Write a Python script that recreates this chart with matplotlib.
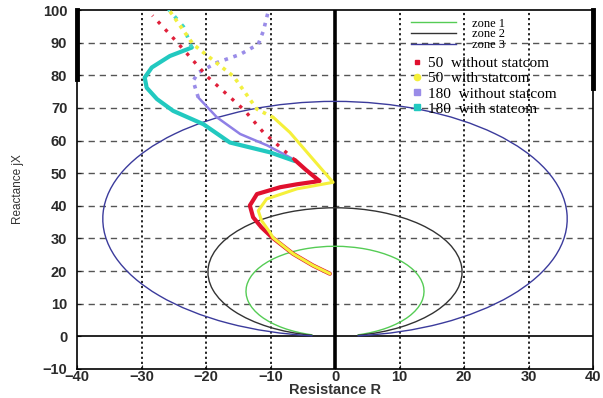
import numpy as np
import matplotlib
matplotlib.use("Agg")
import matplotlib.pyplot as plt
from matplotlib.patches import Arc
from matplotlib.lines import Line2D

# ---------------- data ----------------
zone_labels = ["zone 1", "zone 2", "zone 3"]
zone_center_y = [13.8, 19.7, 36.0]
zone_radius = [13.8, 19.7, 36.0]
zone_colors = ["#55cc55", "#333333", "#3b3b9c"]

# 50 without statcom (red)
red_solid_x = [-0.8, -3.4, -6.5, -9.8, -11.4, -12.7, -13.2, -12.1, -8.5, -5.9, -2.4, -4.5, -6.2]
red_solid_y = [19.2, 21.7, 25.3, 30.4, 33.4, 36.5, 40.1, 43.6, 45.7, 46.6, 47.6, 51.0, 54.0]
red_dot_x = [-6.2, -11.1, -14.1, -19.8, -24.8, -28.3]
red_dot_y = [54.0, 62.5, 69.4, 79.6, 90.8, 98.3]

# 50 with statcom (yellow)
yel_solid_x = [-0.8, -3.4, -6.5, -9.6, -10.1, -11.4, -11.9, -10.6, -5.9, -0.3, -3.9, -7.0, -9.5]
yel_solid_y = [19.2, 21.7, 25.3, 30.2, 31.9, 35.5, 38.5, 42.1, 45.2, 47.2, 55.4, 62.5, 67.0]
yel_dot_x = [-9.5, -12.1, -15.7, -22.0, -25.8]
yel_dot_y = [67.0, 69.6, 79.6, 89.5, 100.2]

# 180 without statcom (purple)
pur_solid_x = [-6.2, -10.5, -14.7, -18.3, -21.2]
pur_solid_y = [54.0, 58.5, 62.0, 67.1, 73.2]
pur_dot_x = [-21.2, -22.0, -21.2, -18.3, -14.7, -11.9, -11.1, -10.3]
pur_dot_y = [73.2, 78.3, 80.8, 83.9, 86.4, 89.5, 93.6, 100.0]

# 180 with statcom (cyan)
cy_solid_x = [-6.2, -10.1, -16.3, -20.4, -25.1, -27.6, -29.2, -29.5, -28.4, -25.6, -22.2]
cy_solid_y = [53.7, 56.4, 59.4, 65.0, 69.1, 72.7, 76.2, 79.3, 82.4, 85.9, 88.5]
cy_dot_x = [-22.2, -23.5, -25.8]
cy_dot_y = [88.5, 94.9, 100.2]

xticks = [-40, -30, -20, -10, 0, 10, 20, 30, 40]
yticks = [-10, 0, 10, 20, 30, 40, 50, 60, 70, 80, 90, 100]

# ---------------- figure ----------------
fig = plt.figure(figsize=(6.03, 3.98), dpi=100)
ax = fig.add_axes([77/603, 29/398, 516/603, 359/398])
ax.set_xlim(-40, 40)
ax.set_ylim(-10, 100)

# grid
for xv in xticks[1:-1]:
    if xv != 0:
        ax.axvline(xv, color="#111111", lw=1.3, ls=(0, (1.2, 1.6)), zorder=1)
for yv in yticks[1:-1]:
    if yv != 0:
        ax.axhline(yv, color="#555555", lw=1.0, ls=(0, (4.5, 3.5)), zorder=1)

# zero lines
ax.axvline(0, color="black", lw=2.6, zorder=2)
ax.axhline(0, color="black", lw=1.2, zorder=2)

# zones (mho circles through the origin)
for cy, r, c in zip(zone_center_y, zone_radius, zone_colors):
    gap = np.degrees(np.arcsin(3.5 / r))
    ax.add_patch(Arc((0, cy), 2 * r, 2 * r, theta1=-90 + gap, theta2=270 - gap,
                     color=c, lw=1.0, zorder=3))

# trajectories
ax.plot(pur_solid_x, pur_solid_y, color="#8f80e6", lw=1.8, zorder=4, solid_capstyle="round")
ax.plot(pur_dot_x, pur_dot_y, color="#9a8ce8", lw=2.6, ls=(0, (1.0, 1.6)), zorder=4)
ax.plot(cy_solid_x, cy_solid_y, color="#22c9c0", lw=3.0, zorder=5, solid_capstyle="round")
ax.plot(cy_dot_x, cy_dot_y, color="#3fd6c8", lw=2.6, ls=(0, (1.0, 2.0)), zorder=5)
ax.plot(red_dot_x, red_dot_y, color="#e0203a", lw=2.4, ls=(0, (1.0, 2.2)), zorder=5)
ax.plot(red_solid_x, red_solid_y, color="#e0102e", lw=3.0, zorder=6, solid_capstyle="round")
ax.plot(yel_dot_x, yel_dot_y, color="#f2f040", lw=2.6, ls=(0, (1.0, 1.4)), zorder=5)
ax.plot(yel_solid_x, yel_solid_y, color="#f5f03a", lw=2.2, zorder=7, solid_capstyle="round")

# spines and ticks
for s in ax.spines.values():
    s.set_linewidth(1.2)
    s.set_color("black")
ax.axvline(-40, ymin=(79 + 10) / 110, ymax=1, color="black", lw=3.5, zorder=8, clip_on=False)
ax.axvline(40, ymin=(76 + 10) / 110, ymax=1, color="black", lw=3.5, zorder=8, clip_on=False)

ax.set_xticks(xticks)
ax.set_yticks(yticks)
ax.tick_params(direction="in", length=3, width=0.8, colors="#222222")
ax.tick_params(axis="x", pad=1)
ax.tick_params(axis="y", pad=7)
for lab in ax.get_xticklabels() + ax.get_yticklabels():
    lab.set_family("Liberation Sans")
    lab.set_fontweight("bold")
    lab.set_fontsize(10.5)
    lab.set_color("#2a2a2a")

ax.set_xlabel("Resistance R", family="Liberation Sans", fontweight="bold",
              fontsize=10.5, color="#333333", labelpad=-1)
ax.set_ylabel("Reactance jX", family="Liberation Sans", fontsize=8.5,
              color="#333333", labelpad=13)

# legends
zone_handles = [Line2D([], [], color=c, lw=1.0) for c in zone_colors]
leg1 = ax.legend(zone_handles, zone_labels, loc="upper left",
                 bbox_to_anchor=(0.645, 0.982), frameon=False,
                 prop={"family": "Liberation Serif", "size": 9},
                 handlelength=3.6, handletextpad=1.3, labelspacing=-0.1,
                 borderpad=0.1, borderaxespad=0)
ax.add_artist(leg1)

series_labels = ["50  without statcom", "50  with statcom",
                 "180  without statcom", "180  with statcom"]
series_handles = [
    Line2D([], [], ls="none", marker="s", ms=3.5, color="#e0102e"),
    Line2D([], [], ls="none", marker="o", ms=4.5, color="#f5f03a"),
    Line2D([], [], ls="none", marker="s", ms=4.5, color="#9a8ce8"),
    Line2D([], [], ls="none", marker="s", ms=4, color="#22c9c0"),
]
leg2 = ax.legend(series_handles, series_labels, loc="upper left",
                 bbox_to_anchor=(0.648, 0.875), frameon=False,
                 prop={"family": "Liberation Serif", "size": 11},
                 handlelength=0.6, handletextpad=0.4, labelspacing=0.1,
                 borderpad=0.1, borderaxespad=0)

fig.savefig("out.png", dpi=100)
